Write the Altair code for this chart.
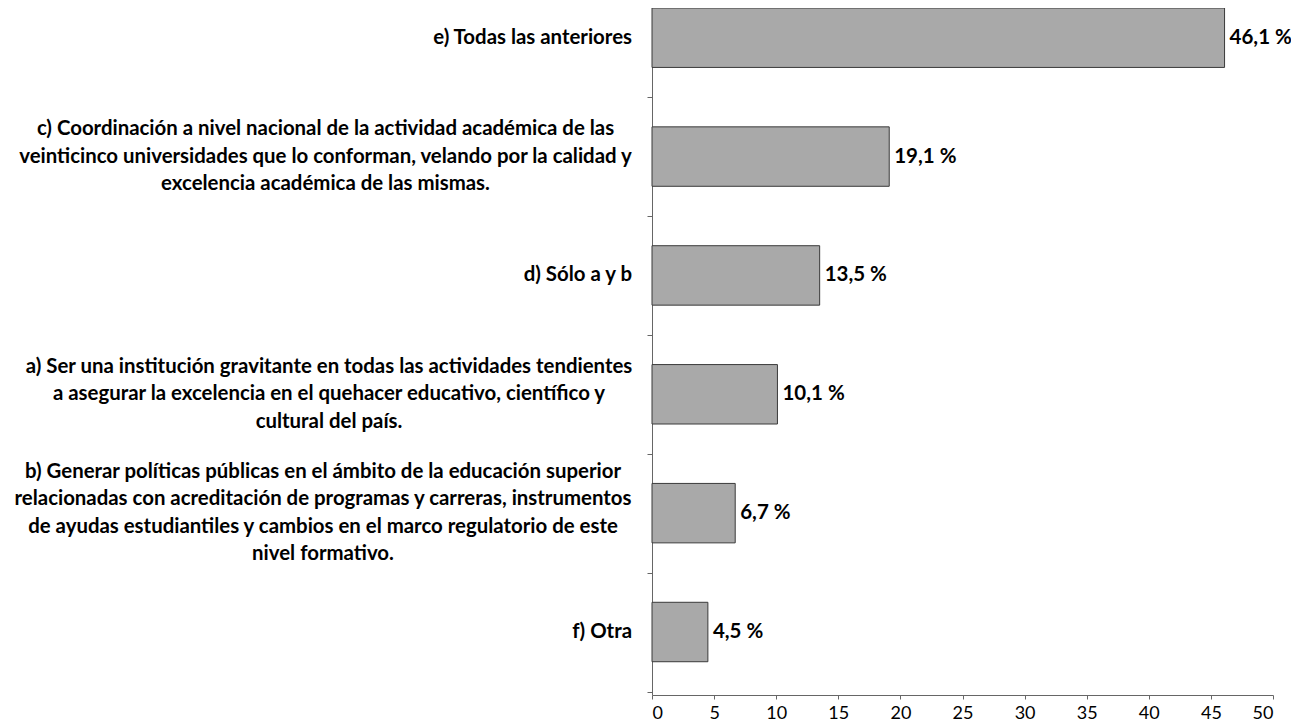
import altair as alt
import pandas as pd

labels = [
    "e) Todas las anteriores",
    "c) Coordinación a nivel nacional de la actividad académica de las|veinticinco universidades que lo conforman, velando por la calidad y|excelencia académica de las mismas.",
    "d) Sólo a y b",
    "a) Ser una institución gravitante en todas las actividades tendientes|a asegurar la excelencia en el quehacer educativo, científico y|cultural del país.",
    "b) Generar políticas públicas en el ámbito de la educación superior|relacionadas con acreditación de programas y carreras, instrumentos|de ayudas estudiantiles y cambios en el marco regulatorio de este|nivel formativo.",
    "f) Otra",
]
values = [46.1, 19.1, 13.5, 10.1, 6.7, 4.5]
x_ticks = [0, 5, 10, 15, 20, 25, 30, 35, 40, 45, 50]

df = pd.DataFrame({"label": labels, "value": values})

FONT = "Lato"
LABEL_SIZE = 20.4
LH = 27.5
GAP = 20  # space between label block and the axis line

# half of the widest line of each multi-line label (text layout styling),
# used to centre its lines inside a right-aligned block
BLOCK_HALF = {"c)": 306.5, "a)": 303.0, "b)": 309.0}

y_sorted = alt.Y("label:N", sort=labels)

y_enc = alt.Y(
    "label:N",
    sort=labels,
    scale=alt.Scale(paddingInner=0.5, paddingOuter=0.14, align=0),
    axis=alt.Axis(
        title=None,
        labels=False,
        tickSize=5,
        tickOffset=59.5,
        domainColor="#666666",
        tickColor="#666666",
        grid=False,
    ),
)

x_enc = alt.X(
    "value:Q",
    scale=alt.Scale(domain=[0, 50], nice=False),
    axis=alt.Axis(
        title=None,
        values=x_ticks,
        labelFont=FONT,
        labelFontSize=18,
        labelColor="black",
        labelPadding=5,
        tickSize=4,
        domainColor="#666666",
        tickColor="#666666",
        grid=False,
    ),
)

base = alt.Chart(df)

bars = base.mark_bar(color="#a9a9a9", stroke="#3a3a3a", strokeWidth=1).encode(
    x=x_enc, y=y_enc
)

values_text = base.transform_calculate(
    txt="replace(format(datum.value, '.1f'), '.', ',') + ' %'"
).mark_text(
    align="left", baseline="middle", dx=5, font=FONT, fontWeight="bold",
    fontSize=20.5, color="black"
).encode(
    x=alt.X("value:Q"), y=y_sorted, text="txt:N"
)

label_layers = []
for lab in labels:
    n_lines = lab.count("|") + 1
    key = lab[:2]
    if key in BLOCK_HALF:
        align = "center"
        dx = -(GAP + BLOCK_HALF[key])
    else:
        align = "right"
        dx = -GAP
    layer = base.transform_filter(alt.datum.label == lab).mark_text(
        align=align,
        baseline="middle",
        lineBreak="|",
        lineHeight=LH,
        dx=dx,
        dy=-(n_lines - 1) * LH / 2,
        font=FONT,
        fontWeight="bold",
        fontSize=LABEL_SIZE,
        color="black",
    ).encode(x=alt.value(0), y=y_sorted, text="label:N")
    label_layers.append(layer)

chart = (
    alt.layer(bars, values_text, *label_layers)
    .properties(
        width=621,
        height=687,
        padding={"left": 644, "top": 0, "right": 18, "bottom": 30},
        autosize=alt.AutoSizeParams(type="none"),
        background="white",
    )
    .configure_view(stroke=None)
)

chart.save("out.html", embed_options={"renderer": "svg", "actions": False})
